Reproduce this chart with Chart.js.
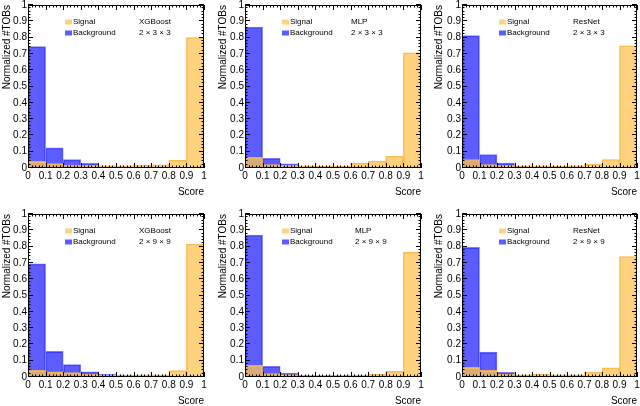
<!DOCTYPE html>
<html><head><meta charset="utf-8">
<script src="https://cdn.jsdelivr.net/npm/chart.js@4"></script>
<style>
html,body{margin:0;padding:0;background:#fff;}
#wrap{position:relative;width:640px;height:406px;overflow:hidden;background:#fff;}
#wrap canvas{position:absolute;}
</style></head><body><div id="wrap"></div>
<script>
// ---- data ----
const binCenters = [0.05, 0.15, 0.25, 0.35, 0.45, 0.55, 0.65, 0.75, 0.85, 0.95];
const scoreTicks = [0, 0.1, 0.2, 0.3, 0.4, 0.5, 0.6, 0.7, 0.8, 0.9, 1];
const yTicks = [0, 0.1, 0.2, 0.3, 0.4, 0.5, 0.6, 0.7, 0.8, 0.9, 1];
const seriesNames = ['Signal', 'Background'];
const models = ['XGBoost', 'MLP', 'ResNet', 'XGBoost', 'MLP', 'ResNet'];
const configs = ['2 \u00d7 3 \u00d7 3', '2 \u00d7 3 \u00d7 3', '2 \u00d7 3 \u00d7 3', '2 \u00d7 9 \u00d7 9', '2 \u00d7 9 \u00d7 9', '2 \u00d7 9 \u00d7 9'];
const xTitle = 'Score';
const yTitle = 'Normalized #TOBs';

const sigXGB333 = [0.041, 0.027, 0.018, 0.016, 0.014, 0.014, 0.018, 0.020, 0.047, 0.800];
const bkgXGB333 = [0.745, 0.123, 0.051, 0.029, 0.012, 0.006, 0.004, 0.003, 0.002, 0.002];
const sigMLP333 = [0.065, 0.021, 0.017, 0.013, 0.011, 0.011, 0.030, 0.042, 0.072, 0.707];
const bkgMLP333 = [0.865, 0.060, 0.026, 0.010, 0.006, 0.004, 0.003, 0.003, 0.002, 0.002];
const sigRes333 = [0.052, 0.021, 0.016, 0.013, 0.013, 0.011, 0.013, 0.024, 0.052, 0.750];
const bkgRes333 = [0.812, 0.083, 0.030, 0.010, 0.006, 0.004, 0.003, 0.003, 0.002, 0.002];
const sigXGB999 = [0.041, 0.031, 0.027, 0.018, 0.012, 0.012, 0.014, 0.014, 0.039, 0.815];
const bkgXGB999 = [0.694, 0.157, 0.076, 0.031, 0.016, 0.008, 0.006, 0.004, 0.003, 0.002];
const sigMLP999 = [0.072, 0.021, 0.015, 0.011, 0.010, 0.010, 0.012, 0.016, 0.035, 0.766];
const bkgMLP999 = [0.871, 0.066, 0.024, 0.008, 0.005, 0.004, 0.003, 0.003, 0.002, 0.002];
const sigRes999 = [0.059, 0.041, 0.018, 0.014, 0.016, 0.014, 0.014, 0.029, 0.057, 0.739];
const bkgRes999 = [0.795, 0.153, 0.029, 0.010, 0.006, 0.004, 0.003, 0.003, 0.002, 0.002];

const signalSeries = [sigXGB333, sigMLP333, sigRes333, sigXGB999, sigMLP999, sigRes999];
const backgroundSeries = [bkgXGB333, bkgMLP333, bkgRes333, bkgXGB999, bkgMLP999, bkgRes999];

// ---- layout (page pixels) ----
const cells = [
  {x:0,   y:0,   w:213, h:203}, {x:213, y:0,   w:212, h:203}, {x:425, y:0,   w:215, h:203},
  {x:0,   y:203, w:213, h:203}, {x:213, y:203, w:212, h:203}, {x:425, y:203, w:215, h:203}
];
const plots = [
  {l:28,  t:5,   r:204, b:168}, {l:245, t:5,   r:421, b:168}, {l:462, t:5,   r:637, b:168},
  {l:28,  t:214, r:204, b:377}, {l:245, t:214, r:421, b:377}, {l:462, t:214, r:637, b:377}
];
const yTitleCenters = [7, 223, 439, 7, 223, 439];
const modelOffsets = [111, 106, 111, 111, 110, 111];

const FONT = "'Liberation Sans', Arial, Helvetica, sans-serif";
const SIG_FILL = 'rgba(255,196,84,0.76)';
const SIG_LINE = 'rgba(245,178,70,0.9)';
const BKG_FILL = 'rgba(0,0,255,0.64)';
const BKG_LINE = 'rgba(125,125,255,1)';
const fmtTick = v => String(Number(Number(v).toFixed(1)));

const rootFrame = {
  id: 'rootFrame',
  afterDatasetsDraw(chart, args, opts) {
    const {ctx, chartArea: a, scales: {x, y}} = chart;
    ctx.save();
    ctx.strokeStyle = '#000';
    ctx.lineWidth = 1;
    ctx.beginPath();
    for (let i = 0; i <= 50; i++) {
      const v = i / 50;
      const len = (i % 5 === 0) ? 5 : 2.5;
      const px = Math.round(x.getPixelForValue(v)) + 0.5;
      ctx.moveTo(px, a.bottom); ctx.lineTo(px, a.bottom - len);
      ctx.moveTo(px, a.top); ctx.lineTo(px, a.top + len);
      const py = Math.round(y.getPixelForValue(v)) - 0.5;
      ctx.moveTo(a.left, py); ctx.lineTo(a.left + len, py);
      ctx.moveTo(a.right, py); ctx.lineTo(a.right - len, py);
    }
    ctx.stroke();
    ctx.strokeRect(a.left + 0.5, a.top + 0.5, a.right - a.left - 1, a.bottom - a.top - 1);
    // legend
    const bx = a.left + 37, t = a.top;
    ctx.font = '8px ' + FONT;
    ctx.textBaseline = 'middle';
    ctx.textAlign = 'left';
    const rows = [[SIG_FILL, seriesNames[0]], [BKG_FILL, seriesNames[1]]];
    rows.forEach((r, k) => {
      const cy = t + 17 + k * 11;
      ctx.fillStyle = '#fff';
      ctx.fillRect(bx, cy - 2.5, 7, 5);
      ctx.fillStyle = r[0];
      ctx.fillRect(bx, cy - 2.5, 7, 5);
      ctx.fillStyle = '#000';
      ctx.fillText(r[1], bx + 8, cy);
    });
    ctx.fillText(opts.model, a.left + opts.modelX, t + 17);
    ctx.fillText(opts.config, a.left + opts.modelX, t + 28);
    ctx.restore();
  }
};

const wrap = document.getElementById('wrap');
cells.forEach((c, i) => {
  const p = plots[i];
  const cv = document.createElement('canvas');
  cv.width = c.w; cv.height = c.h;
  cv.style.left = c.x + 'px'; cv.style.top = c.y + 'px';
  cv.style.width = c.w + 'px'; cv.style.height = c.h + 'px';
  wrap.appendChild(cv);
  const yAxisW = p.l - c.x;
  const xAxisH = c.y + c.h - p.b;
  const scoreCenter = p.b + 24;
  const titleYpad = yTitleCenters[i] - c.x - 5;
  new Chart(cv, {
    type: 'bar',
    data: {
      datasets: [
        { label: seriesNames[0], data: binCenters.map((xv, k) => ({x: xv, y: signalSeries[i][k]})),
          backgroundColor: SIG_FILL, borderColor: SIG_LINE, borderWidth: 1,
          barPercentage: 1, categoryPercentage: 1, grouped: false },
        { label: seriesNames[1], data: binCenters.map((xv, k) => ({x: xv, y: backgroundSeries[i][k]})),
          backgroundColor: BKG_FILL, borderColor: BKG_LINE, borderWidth: 1,
          barPercentage: 1, categoryPercentage: 1, grouped: false }
      ]
    },
    options: {
      responsive: false,
      animation: false,
      devicePixelRatio: 1,
      layout: { padding: { left: 0, top: p.t - c.y, right: c.x + c.w - p.r, bottom: 0 } },
      plugins: {
        legend: { display: false },
        tooltip: { enabled: false },
        rootFrame: { model: models[i], config: configs[i], modelX: modelOffsets[i] }
      },
      scales: {
        x: {
          type: 'linear', min: 0, max: 1, offset: false,
          afterBuildTicks: s => { s.ticks = scoreTicks.map(v => ({value: v})); },
          afterFit: s => { s.height = xAxisH; s.paddingLeft = 0; s.paddingRight = 0; s.paddingTop = 0; s.paddingBottom = 0; },
          grid: { display: false, drawTicks: false, tickLength: 0 },
          border: { display: false },
          ticks: { autoSkip: false, maxRotation: 0, minRotation: 0, padding: 2, color: '#000',
                   font: { family: FONT, size: 10 }, callback: fmtTick },
          title: { display: true, text: xTitle, align: 'end', color: '#000',
                   font: { family: FONT, size: 10, lineHeight: 1 },
                   padding: { top: 0, bottom: (c.y + c.h) - scoreCenter - 5 } }
        },
        y: {
          type: 'linear', min: 0, max: 1,
          afterBuildTicks: s => { s.ticks = yTicks.map(v => ({value: v})); },
          afterFit: s => { s.width = yAxisW; s.paddingLeft = 0; s.paddingRight = 0; s.paddingTop = 0; s.paddingBottom = 0; },
          grid: { display: false, drawTicks: false, tickLength: 0 },
          border: { display: false },
          ticks: { autoSkip: false, padding: 1, color: '#000', font: { family: FONT, size: 10 }, callback: fmtTick },
          title: { display: true, text: yTitle, align: 'end', color: '#000',
                   font: { family: FONT, size: 10, lineHeight: 1 },
                   padding: { top: titleYpad, bottom: 0 } }
        }
      }
    },
    plugins: [rootFrame]
  });
});
</script></body></html>
